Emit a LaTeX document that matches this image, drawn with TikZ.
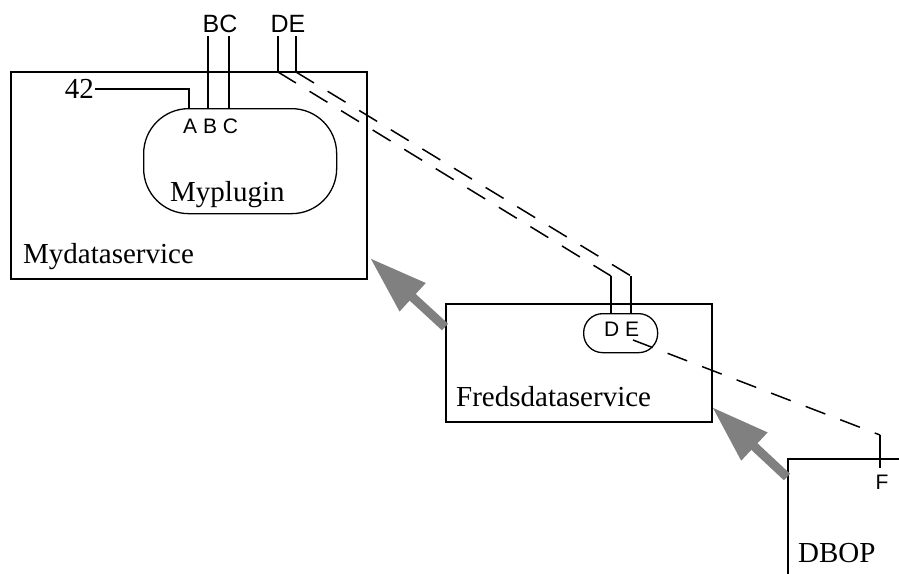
\documentclass[tikz,border=0pt]{standalone}
\usepackage{fontspec}
\setmainfont{Liberation Serif}
\setsansfont{Liberation Sans}
\usetikzlibrary{arrows.meta}
\definecolor{arrowgray}{HTML}{808080}
\begin{document}
\begin{tikzpicture}[x=1pt,y=-1pt,
  box/.style={draw, line width=2pt, inner sep=0pt, anchor=north west},
  plug/.style={draw, line width=1.3pt, inner sep=0pt, anchor=north west},
  serif/.style={font=\fontsize{29}{32}\selectfont, inner sep=0pt},
  bigsans/.style={font=\sffamily\fontsize{25}{28}\selectfont, inner sep=0pt},
  smallsans/.style={font=\sffamily\fontsize{21}{24}\selectfont, inner sep=0pt},
  wire/.style={line width=2pt},
  dline/.style={line width=1.5pt, dash pattern=on 21pt off 16pt},
  inherit/.style={draw=arrowgray, line width=9pt, -{Triangle[length=58pt,width=36pt]}}
]
\useasboundingbox (0,0) rectangle (899,573);
\clip (0,0) rectangle (899,573);

% boxes
\node[box, minimum width=356pt, minimum height=207pt] (myds) at (10,71) {};
\node[plug, minimum width=193pt, minimum height=105pt, rounded corners=45pt] (plugin) at (143,108) {};
\node[box, minimum width=266pt, minimum height=118pt] (fred) at (445,303) {};
\node[plug, minimum width=74pt, minimum height=39pt, rounded corners=19pt] (pill) at (583,313) {};
\node[box, minimum width=220pt, minimum height=220pt] (dbop) at (787,458) {};

% labels
\node[serif, anchor=base west] (lmyds) at (23,263) {Mydataservice};
\node[serif, anchor=base west] (lplug) at (170,201) {Myplugin};
\node[serif, anchor=base west] (lfred) at (456,406) {Fredsdataservice};
\node[serif, anchor=base west] (ldbop) at (798,562) {DBOP};
\node[serif, anchor=east, inner sep=1pt] (n42) at (95,89) {42};
\node[bigsans, anchor=base] (lbc) at (220,32) {BC};
\node[bigsans, anchor=base] (lde) at (288,32) {DE};
\node[smallsans, anchor=base west] (labc) at (183,133) {A B C};
\node[smallsans, anchor=base west] (lpde) at (604,336) {D E};
\node[smallsans, anchor=base] (lf) at (882,489) {F};

% coordinates
\coordinate (pA) at (188.7,108);
\coordinate (pB) at (208,108);
\coordinate (pC) at (229,108);
\coordinate (tB) at (208,36);
\coordinate (tC) at (229,36);
\coordinate (tD) at (278,36);
\coordinate (tE) at (296,36);
\coordinate (mD) at (278,72);
\coordinate (mE) at (296,72);
\coordinate (kD) at (611,276);
\coordinate (kE) at (631,276);
\coordinate (qD) at (611,313);
\coordinate (qE) at (631,313);
\coordinate (s2) at (633,340);
\coordinate (k2) at (880,435);
\coordinate (f2) at (880,468);
\coordinate (a1s) at (445,327);
\coordinate (a1e) at (370,258);
\coordinate (a2s) at (787,477);
\coordinate (a2e) at (712,407);

% wires
\draw[wire] (n42.east) -| (pA);
\draw[wire] (tB) -- (pB);
\draw[wire] (tC) -- (pC);
\draw[wire] (tD) -- (mD);
\draw[wire] (tE) -- (mE);
\draw[dline] (mD) -- (kD);
\draw[dline] (mE) -- (kE);
\draw[wire] (kD) -- (qD);
\draw[wire] (kE) -- (qE);
\draw[dline] (s2) -- (k2);
\draw[wire] (k2) -- (f2);

% inheritance arrows
\draw[inherit] (a1s) -- (a1e);
\draw[inherit] (a2s) -- (a2e);
\end{tikzpicture}
\end{document}
